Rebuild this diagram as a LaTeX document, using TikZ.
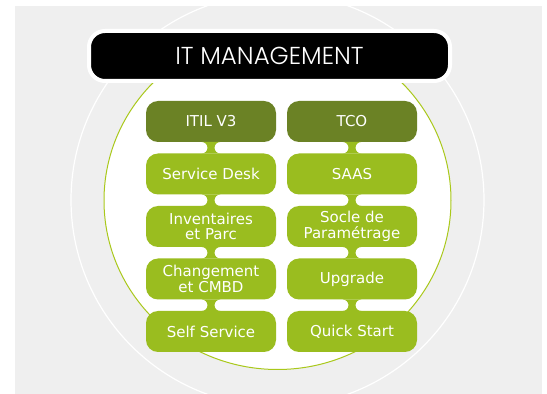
\documentclass[tikz,border=0pt]{standalone}
\usepackage{fontspec}
\setmainfont{DejaVu Sans}
\IfFontExistsTF{Poppins Light}{\newfontfamily\titlefont{Poppins Light}}{\newfontfamily\titlefont{Poppins}}
\usetikzlibrary{positioning}
\definecolor{bggray}{HTML}{EFEFEF}
\definecolor{leafgreen}{HTML}{9ABD1F}
\definecolor{olivegreen}{HTML}{6B8225}
\definecolor{ringgreen}{HTML}{A9C81A}
\begin{document}
\begin{tikzpicture}[x=1pt, y=1pt, node distance=52.5pt,
    item/.style={rounded corners=12pt, minimum width=130pt, minimum height=41pt, inner sep=0pt, outer sep=0pt, text=white, align=center, font=\fontsize{15}{15.5}\selectfont},
    light/.style={item, fill=leafgreen},
    dark/.style={item, fill=olivegreen}]
    \useasboundingbox (0,0) rectangle (547,394);
    \fill[bggray] (15,0) rectangle (542,388);
    \begin{scope}
        \clip (15,0) rectangle (542,388);
        \draw[white, line width=1.2pt] (277.5,194) circle[radius=206.5];
    \end{scope}
    \filldraw[fill=white, draw=ringgreen, line width=1pt] (277.5,193.5) ellipse[x radius=173.5, y radius=169];
    \node[draw=white, fill=black, line width=4pt, rounded corners=16pt, minimum width=361pt, minimum height=50pt, inner sep=0pt, text=white, font=\titlefont\fontsize{24.5}{24.5}\selectfont] (title) at (269.5,338) {IT MANAGEMENT};

    \node[dark] (itil) at (211,272.5) {ITIL V3};
    \node[light, below of=itil] (desk) {Service Desk};
    \node[light, below of=desk] (inv) {Inventaires\\et Parc};
    \node[light, below of=inv] (cmdb) {Changement\\et CMBD};
    \node[light, below of=cmdb] (self) {Self Service};

    \node[dark, right of=itil, node distance=141pt] (tco) {TCO};
    \node[light, below of=tco] (saas) {SAAS};
    \node[light, below of=saas] (socle) {Socle de\\Paramétrage};
    \node[light, below of=socle] (upgrade) {Upgrade};
    \node[light, below of=upgrade] (quick) {Quick Start};

    \foreach \a/\b in {itil/desk, desk/inv, inv/cmdb, cmdb/self, tco/saas, saas/socle, socle/upgrade, upgrade/quick}
        \fill[leafgreen] ([xshift=-9.25pt]\a.south) arc[start angle=90, end angle=-90, radius=5.75pt] -- ([xshift=9.25pt]\b.north) arc[start angle=270, end angle=90, radius=5.75pt] -- cycle;
\end{tikzpicture}
\end{document}
